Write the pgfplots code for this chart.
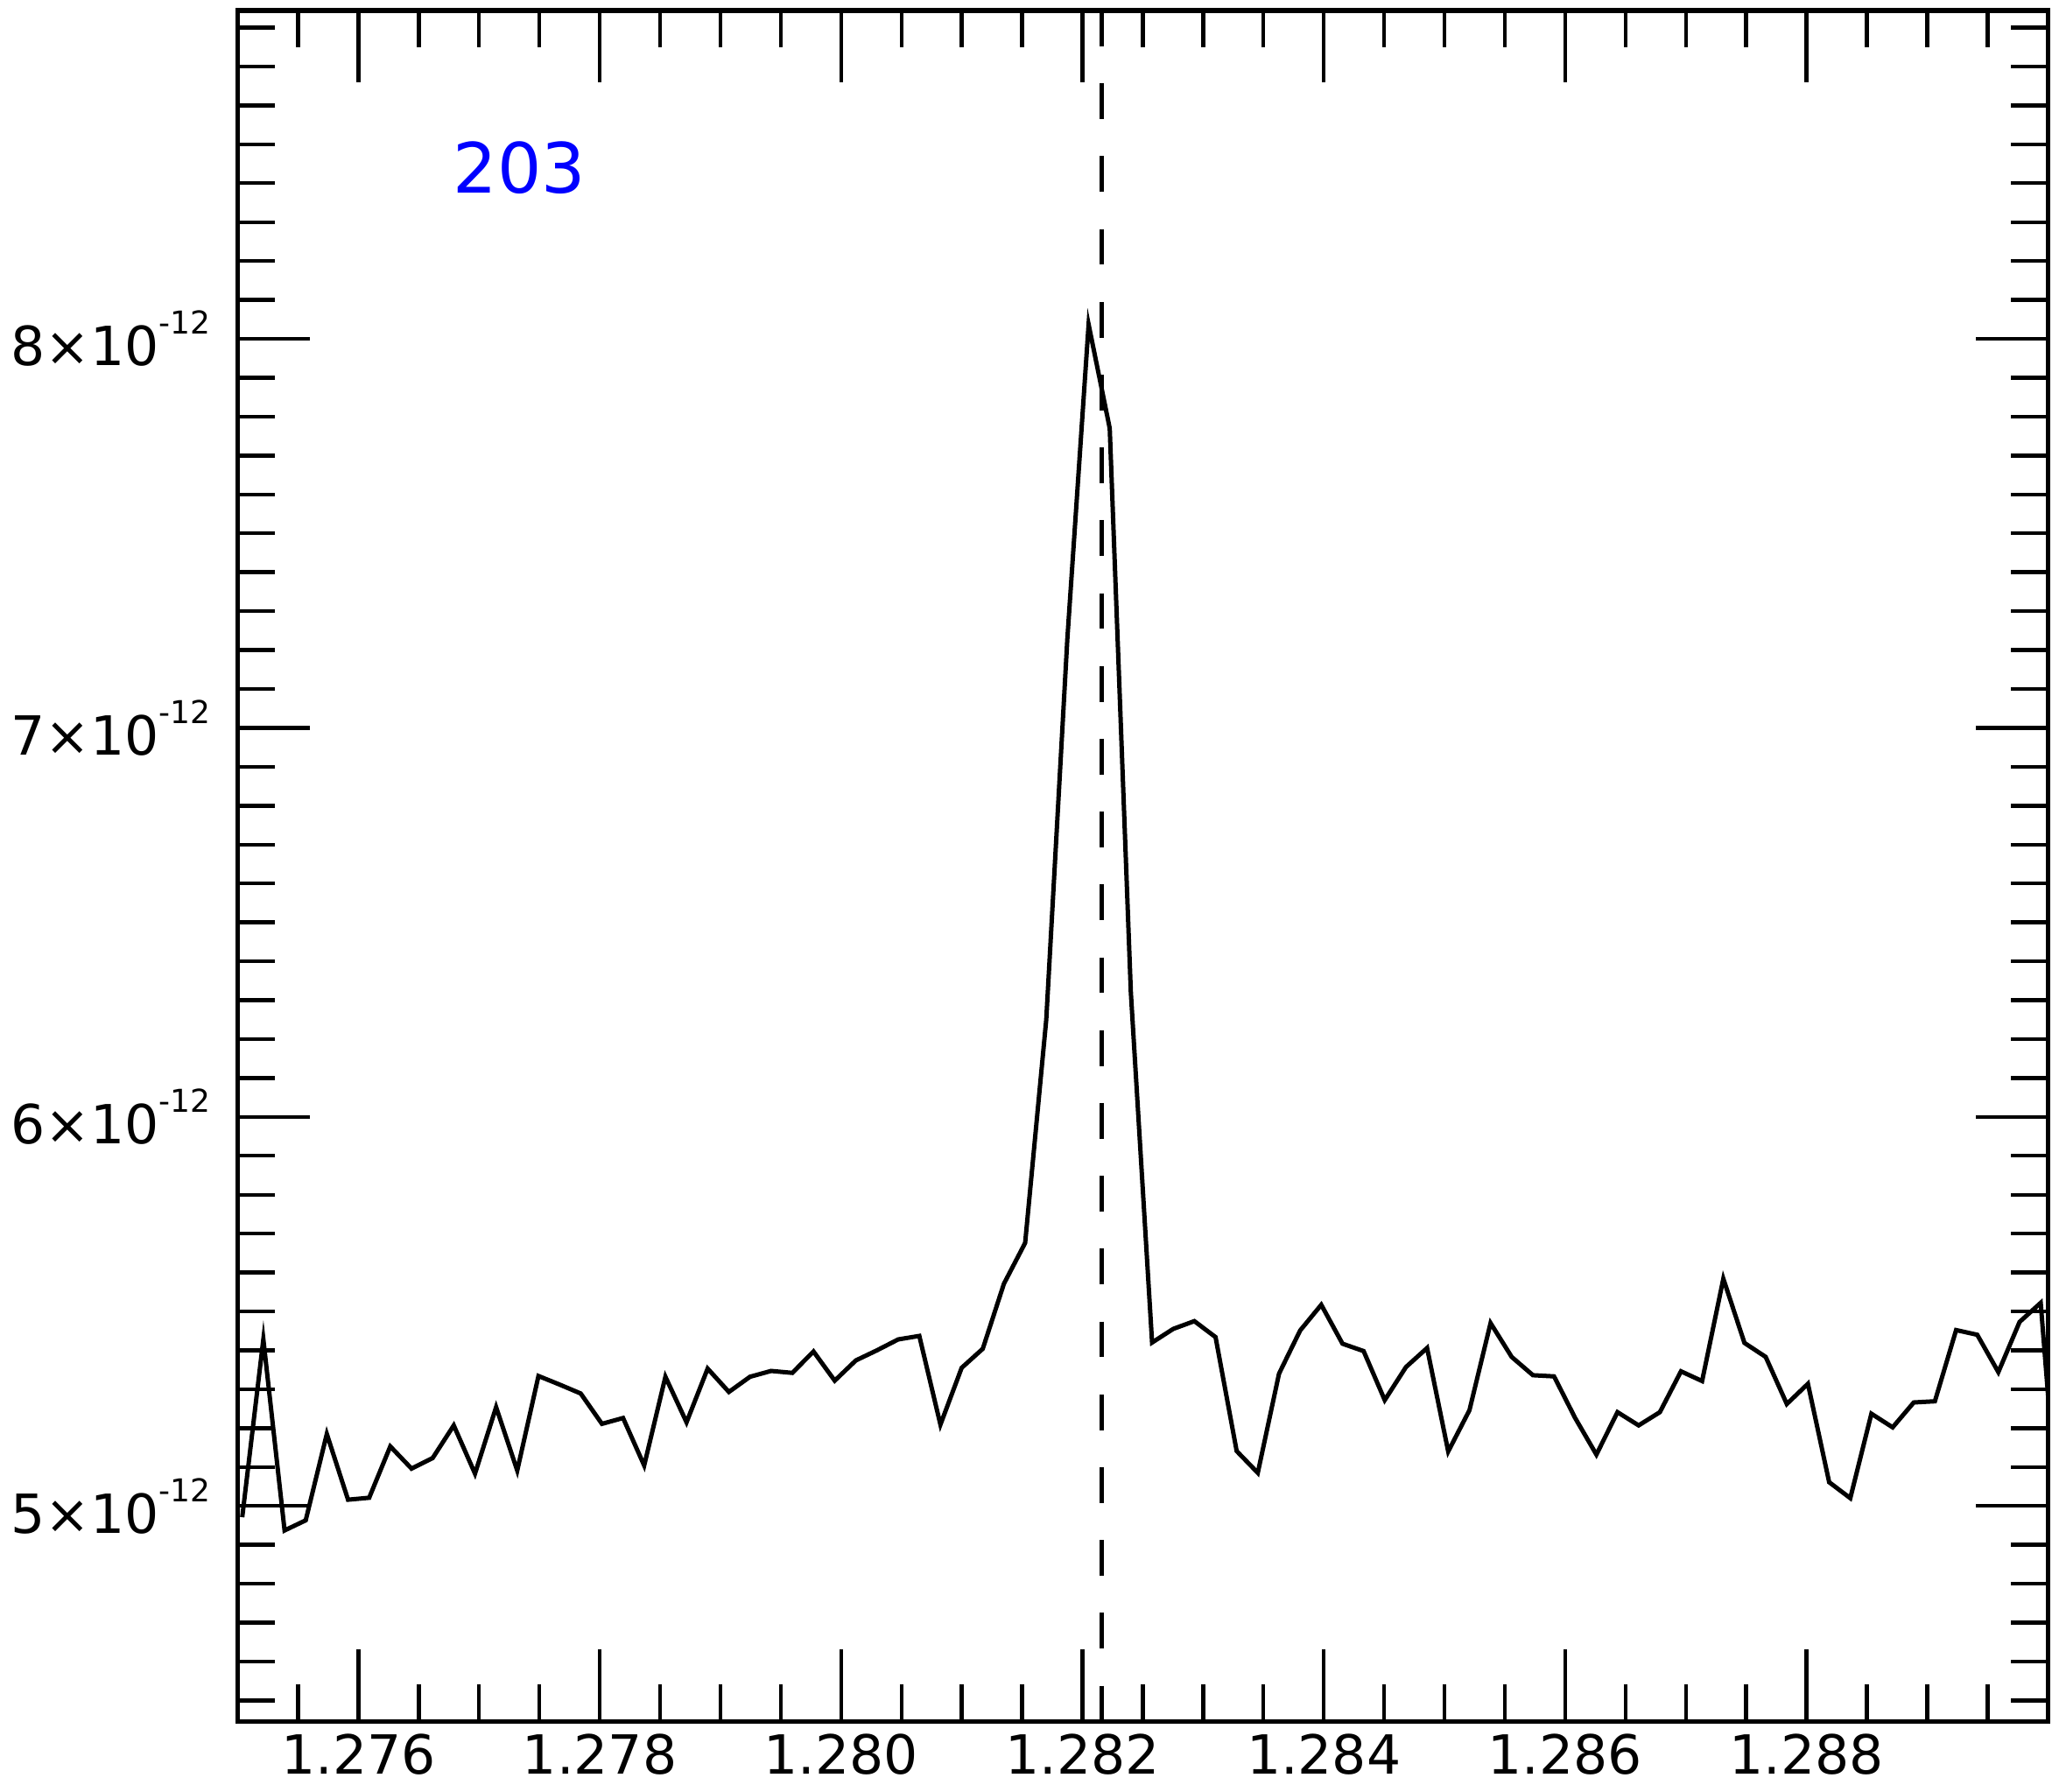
\documentclass[border=0pt]{standalone}
\usepackage{fontspec}
\setmainfont{DejaVu Sans}
\usepackage{pgfplots}
\pgfplotsset{compat=1.18}

% IDL style label: 8x10^-12
\newcommand{\sci}[1]{#1×10\raisebox{9pt}{\fontsize{9}{10}\selectfont -12}}

\begin{document}
\begin{tikzpicture}
\begin{axis}[
    at={(67.9pt,19.9pt)}, anchor=south west,
    scale only axis,
    width=516.9pt, height=488.6pt,
    xmin=1.275, xmax=1.290,
    ymin=4.446, ymax=8.844,
    xtick={1.276,1.278,1.280,1.282,1.284,1.286,1.288},
    xticklabels={1.276,1.278,1.280,1.282,1.284,1.286,1.288},
    minor xtick={1.2755,1.2765,1.277,1.2775,1.2785,1.279,1.2795,1.2805,1.281,1.2815,
                 1.2825,1.283,1.2835,1.2845,1.285,1.2855,1.2865,1.287,1.2875,1.2885,1.289,1.2895},
    ytick={5,6,7,8},
    yticklabels={\sci{5},\sci{6},\sci{7},\sci{8}},
    minor ytick={4.5,4.6,4.7,4.8,4.9,5.1,5.2,5.3,5.4,5.5,5.6,5.7,5.8,5.9,
                 6.1,6.2,6.3,6.4,6.5,6.6,6.7,6.8,6.9,7.1,7.2,7.3,7.4,7.5,7.6,7.7,7.8,7.9,
                 8.1,8.2,8.3,8.4,8.5,8.6,8.7,8.8},
    tick align=inside,
    xtick pos=both, ytick pos=both,
    xticklabel pos=lower, yticklabel pos=left,
    major tick length=20.5pt, minor tick length=10.5pt,
    every tick/.style={black, line width=1.1pt},
    axis line style={line width=1.3pt},
    tick label style={font=\fontsize{15.4}{18}\selectfont},
    yticklabel style={xshift=-4.3pt},
    scaled x ticks=false, scaled y ticks=false,
]

% spectrum
\addplot[black, line width=1.25pt, sharp plot] coordinates {
    (1.275037,4.971) (1.275212,5.428) (1.275388,4.937) (1.275563,4.963) (1.275738,5.185)
    (1.275914,5.016) (1.276089,5.021) (1.276264,5.153) (1.276440,5.096) (1.276615,5.123)
    (1.276790,5.207) (1.276966,5.083) (1.277141,5.254) (1.277316,5.091) (1.277492,5.334)
    (1.277667,5.312) (1.277842,5.289) (1.278018,5.211) (1.278193,5.226) (1.278368,5.104)
    (1.278544,5.332) (1.278719,5.215) (1.278894,5.353) (1.279070,5.293) (1.279245,5.332)
    (1.279420,5.347) (1.279596,5.342) (1.279771,5.397) (1.279947,5.322) (1.280122,5.374)
    (1.280297,5.400) (1.280473,5.428) (1.280648,5.437) (1.280823,5.209) (1.280999,5.355)
    (1.281174,5.404) (1.281349,5.571) (1.281525,5.676) (1.281700,6.250) (1.281875,7.230)
    (1.282051,8.037) (1.282226,7.770) (1.282401,6.320) (1.282577,5.420) (1.282752,5.455)
    (1.282927,5.475) (1.283103,5.434) (1.283278,5.141) (1.283453,5.085) (1.283629,5.340)
    (1.283804,5.451) (1.283979,5.517) (1.284155,5.417) (1.284330,5.398) (1.284505,5.272)
    (1.284681,5.357) (1.284856,5.406) (1.285031,5.140) (1.285207,5.246) (1.285382,5.470)
    (1.285557,5.383) (1.285733,5.336) (1.285908,5.333) (1.286083,5.226) (1.286259,5.132)
    (1.286434,5.241) (1.286609,5.207) (1.286785,5.241) (1.286960,5.346) (1.287135,5.321)
    (1.287311,5.584) (1.287486,5.419) (1.287662,5.383) (1.287837,5.262) (1.288012,5.314)
    (1.288188,5.061) (1.288363,5.020) (1.288538,5.237) (1.288714,5.202) (1.288889,5.266)
    (1.289064,5.269) (1.289240,5.452) (1.289415,5.440) (1.289590,5.344) (1.289766,5.473)
    (1.289941,5.522) (1.290116,4.840)
};

% line centre
\addplot[black, line width=1.2pt, dash pattern=on 10.2pt off 10.6pt] coordinates {
    (1.28216,8.844) (1.28216,4.446)
};

\node[text=blue, font=\fontsize{19.8}{23}\selectfont] at (axis cs:1.277335,8.44) {203};
\end{axis}
\pgfresetboundingbox
\path[use as bounding box] (0,0) rectangle (588pt,511.5pt);
\end{tikzpicture}
\end{document}
